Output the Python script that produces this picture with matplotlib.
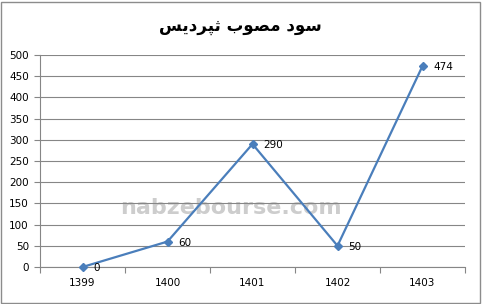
import matplotlib
matplotlib.use("Agg")
import matplotlib.pyplot as plt
from matplotlib.patches import Rectangle

years = ['1399', '1400', '1401', '1402', '1403']
profit = [0, 60, 290, 50, 474]
title_text = 'سود مصوب ثپردیس'
watermark = 'nabzebourse.com'

# minimal arabic shaping: isolated, final, initial, medial
FORMS = {
    'س': ('\uFEB1', '\uFEB2', '\uFEB3', '\uFEB4'),
    'و': ('\uFEED', '\uFEEE', None, None),
    'د': ('\uFEA9', '\uFEAA', None, None),
    'ر': ('\uFEAD', '\uFEAE', None, None),
    'م': ('\uFEE1', '\uFEE2', '\uFEE3', '\uFEE4'),
    'ص': ('\uFEB9', '\uFEBA', '\uFEBB', '\uFEBC'),
    'ب': ('\uFE8F', '\uFE90', '\uFE91', '\uFE92'),
    'ث': ('\uFE99', '\uFE9A', '\uFE9B', '\uFE9C'),
    'پ': ('\uFB56', '\uFB57', '\uFB58', '\uFB59'),
    'ی': ('\uFBFC', '\uFBFD', '\uFBFE', '\uFBFF'),
}


def shape(text):
    out = []
    for i, c in enumerate(text):
        if c not in FORMS:
            out.append(c)
            continue
        prev = text[i-1] if i > 0 else ' '
        nxt = text[i+1] if i + 1 < len(text) else ' '
        join_prev = prev in FORMS and FORMS[prev][2] is not None
        join_next = nxt in FORMS and FORMS[c][2] is not None
        f = FORMS[c]
        if join_prev and join_next:
            out.append(f[3])
        elif join_prev:
            out.append(f[1])
        elif join_next:
            out.append(f[2])
        else:
            out.append(f[0])
    return ''.join(out)[::-1]


blue = '#4A7EBB'
grid = '#868686'

fig = plt.figure(figsize=(4.82, 3.04), dpi=100)
ax = fig.add_axes([40/482, 37/304, 425/482, 212/304])

x = range(len(years))
ax.set_xlim(-0.5, len(years) - 0.5)
ax.set_ylim(0, 500)
ax.set_yticks(range(0, 501, 50))
ax.yaxis.grid(True, color=grid, linewidth=0.8)
ax.set_axisbelow(True)

ax.set_xticks([i - 0.5 for i in range(len(years) + 1)])
ax.set_xticklabels([])
ax.set_xticks(list(x), minor=True)
ax.set_xticklabels(years, minor=True)
ax.tick_params(axis='x', which='major', length=4, color=grid, direction='out')
ax.tick_params(axis='x', which='minor', length=0, pad=8, labelsize=7.5)
ax.tick_params(axis='y', length=4, color=grid, labelsize=7.5, pad=4)

for s in ['top', 'right']:
    ax.spines[s].set_visible(False)
for s in ['left', 'bottom']:
    ax.spines[s].set_color(grid)
    ax.spines[s].set_linewidth(0.8)

# watermark sits under the gridlines
ax.text(0.45, 0.28, watermark, transform=ax.transAxes, ha='center', va='center',
        fontsize=16, fontweight='bold', color='#cdcdcd', zorder=0.3)

ax.plot(list(x), profit, color=blue, linewidth=1.6, marker='D', markersize=4.5,
        zorder=3, clip_on=False)
for xi, v in zip(x, profit):
    ax.annotate(str(v), (xi, v), xytext=(8, -1), textcoords='offset points',
                ha='left', va='center', fontsize=7.5, zorder=4)

fig.text(240/482, 1 - 26/304, shape(title_text), ha='center', va='center',
         fontsize=12, fontweight='bold', family=['DejaVu Sans'])

fig.patches.append(Rectangle((1/482, 1/304), 479/482, 301/304, transform=fig.transFigure,
                             fill=False, edgecolor='#8c8c8c', linewidth=1))

fig.savefig('out.png', dpi=100)
